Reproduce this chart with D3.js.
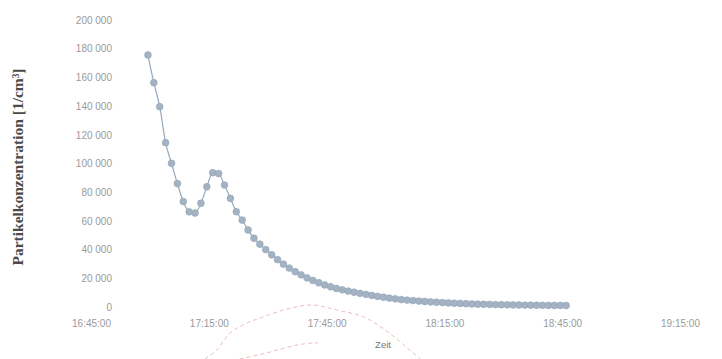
<!DOCTYPE html>
<html>
<head>
<meta charset="utf-8">
<script src="https://cdn.jsdelivr.net/npm/d3@7"></script>
<style>
  html, body { margin: 0; padding: 0; background: #fff; }
  svg { display: block; }
</style>
</head>
<body>
<svg id="chart" width="722" height="359"></svg>
<script>
// Particle concentration measured every 90 s, starting 16:59:30
const startTime = "2000-01-01T16:59:30";
const sampleIntervalSec = 90;
const concentration = [
  175600, 156300, 139600, 114500, 100100, 86000, 73500, 66300, 65500, 72300,
  83800, 93600, 93000, 85000, 75700, 66400, 60600, 53700, 47900, 43800,
  40000, 36400, 33000, 29900, 27100, 24600, 22400, 20300, 18500, 16900,
  15400, 14100, 12900, 12000, 11100, 10300, 9500, 8800, 8100, 7400,
  6800, 6200, 5700, 5200, 4800, 4500, 4150, 3850, 3550, 3300,
  3050, 2850, 2650, 2450, 2300, 2150, 2000, 1900, 1800, 1700,
  1620, 1540, 1460, 1400, 1340, 1280, 1230, 1180, 1130, 1100,
  1080, 1050
];

// Axis settings
const xTickLabels = ["16:45:00", "17:15:00", "17:45:00", "18:15:00", "18:45:00", "19:15:00"];
const yTickValues = [0, 20000, 40000, 60000, 80000, 100000, 120000, 140000, 160000, 180000, 200000];
const yAxisTitle = "Partikelkonzentration [1/cm³]";
const xAxisTitle = "Zeit";

// Faint red dashed guide arcs below the time axis: [minutes after 16:45, value]
const guideArcA = [
  [29.0, -36200], [32.0, -30000], [35.4, -18100], [38.7, -12500], [43.0, -7700],
  [50.7, -900], [56.5, 1400], [62.6, -2100], [69.3, -6800], [74.9, -16000], [83.8, -36200]
];
const guideArcB = [
  [37.9, -36200], [39.2, -35500], [44.7, -32000], [52.4, -26500], [56.5, -25100], [57.8, -25000]
];

const parseClock = d3.timeParse("%H:%M:%S");
const dayOf = s => { const t = parseClock(s); return new Date(2000, 0, 1, t.getHours(), t.getMinutes(), t.getSeconds()); };

const t0 = new Date(startTime);
const series = concentration.map((v, i) => ({ t: new Date(t0.getTime() + i * sampleIntervalSec * 1000), v }));

const xStart = dayOf(xTickLabels[0]);
const xEnd = dayOf(xTickLabels[xTickLabels.length - 1]);

const svg = d3.select("#chart");

const x = d3.scaleTime().domain([xStart, xEnd]).range([91, 680]);
const y = d3.scaleLinear().domain([0, 200000]).range([307, 20]);

const fmtThousands = v => d3.format(",")(v).replace(/,/g, " ");

// Y axis (labels only)
const yAxis = d3.axisLeft(y).tickValues(yTickValues).tickFormat(fmtThousands).tickSize(0).tickPadding(0);
const gy = svg.append("g").attr("transform", "translate(112,0)").call(yAxis);
gy.select(".domain").remove();
gy.selectAll("text")
  .attr("fill", "#9a9a9a")
  .style("font-family", "'Liberation Sans', Arial, sans-serif")
  .style("font-size", "10px");

// X axis (labels only)
const xAxis = d3.axisBottom(x)
  .tickValues(xTickLabels.map(dayOf))
  .tickFormat(d3.timeFormat("%H:%M:%S"))
  .tickSize(0).tickPadding(0);
const gx = svg.append("g").attr("transform", "translate(0,320)").call(xAxis);
gx.select(".domain").remove();
gx.selectAll("text")
  .attr("fill", "#9a9a9a")
  .style("font-family", "'Liberation Sans', Arial, sans-serif")
  .style("font-size", "10px");

// Axis titles
svg.append("text")
  .attr("transform", "translate(23,167) rotate(-90)")
  .attr("text-anchor", "middle")
  .attr("fill", "#4a4a4a")
  .style("font-family", "'Liberation Serif', 'Times New Roman', serif")
  .style("font-weight", "bold")
  .style("font-size", "15.5px")
  .text(yAxisTitle);

svg.append("text")
  .attr("x", 383).attr("y", 348)
  .attr("text-anchor", "middle")
  .attr("fill", "#777")
  .style("font-family", "'Liberation Sans', Arial, sans-serif")
  .style("font-size", "9.5px")
  .text(xAxisTitle);

// Guide arcs
const minutesToDate = m => new Date(xStart.getTime() + m * 60000);
const arcLine = d3.line().x(d => x(minutesToDate(d[0]))).y(d => y(d[1])).curve(d3.curveCatmullRom);
[guideArcA, guideArcB].forEach(arc => {
  svg.append("path")
    .attr("d", arcLine(arc))
    .attr("fill", "none")
    .attr("stroke", "#e07a7a")
    .attr("stroke-opacity", 0.5)
    .attr("stroke-width", 1)
    .attr("stroke-dasharray", "4,3");
});

// Data line and markers
const line = d3.line().x(d => x(d.t)).y(d => y(d.v)).curve(d3.curveMonotoneX);
svg.append("path")
  .datum(series)
  .attr("d", line)
  .attr("fill", "none")
  .attr("stroke", "#98a9bb")
  .attr("stroke-width", 1.2);

svg.append("g").selectAll("circle")
  .data(series)
  .join("circle")
  .attr("cx", d => x(d.t))
  .attr("cy", d => y(d.v))
  .attr("r", 3.4)
  .attr("fill", "#a3b3c3")
  .attr("stroke", "#93a5b7")
  .attr("stroke-width", 0.6);
</script>
</body>
</html>
